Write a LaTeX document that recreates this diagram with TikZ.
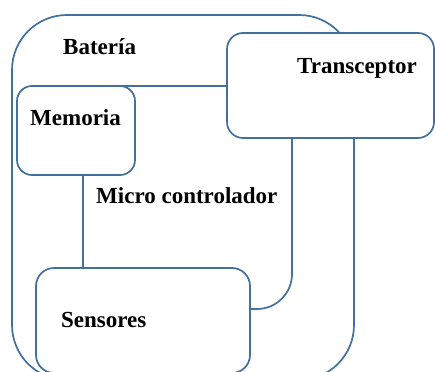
\documentclass[tikz,border=0pt]{standalone}
\usepackage{fontspec}
\setmainfont{Liberation Serif}
\definecolor{edge}{HTML}{41719C}
\begin{document}
\begin{tikzpicture}[x=1pt,y=-1pt,
  box/.style={draw=edge,line width=1.7pt,fill=white,inner sep=0pt,outer sep=0pt},
  lbl/.style={anchor=base west,inner sep=0pt,font=\fontsize{23}{26}\selectfont\bfseries}]
\useasboundingbox (0,0) rectangle (435,371);
\clip (0,0) rectangle (435,371);
\fill[white] (0,0) rectangle (435,371);
\node[box,rounded corners=55pt,minimum width=342pt,minimum height=365pt] (bat) at (183,197.5) {};
\node[box,rounded corners=35pt,minimum width=209pt,minimum height=223pt] (mic) at (187.5,197.5) {};
\node[box,rounded corners=15pt,minimum width=118pt,minimum height=89pt] (mem) at (76,130.5) {};
\node[box,rounded corners=16pt,minimum width=207pt,minimum height=105pt] (tra) at (330.5,85.5) {};
\node[box,rounded corners=18pt,minimum width=214pt,minimum height=105pt] (sen) at (143,320.5) {};
\node[lbl] (tbat) at (63,55) {Batería};
\node[lbl] (ttra) at (297,74) {Transceptor};
\node[lbl] (tmem) at (30,126) {Memoria};
\node[lbl] (tmic) at (96,203) {Micro controlador};
\node[lbl] (tsen) at (61,327) {Sensores};
\end{tikzpicture}
\end{document}
